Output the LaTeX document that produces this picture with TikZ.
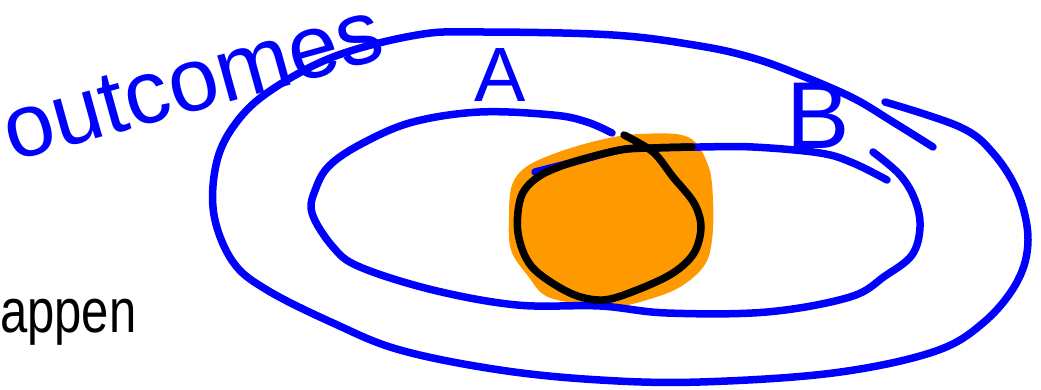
\documentclass[tikz,border=0pt]{standalone}
\usepackage{fontspec}
\setmainfont{Liberation Sans}
\definecolor{penblue}{RGB}{0,0,255}
\definecolor{hilite}{RGB}{255,153,0}
\tikzset{
  bluestroke/.style={draw=penblue, line width=7.5pt, line cap=round, line join=round},
  blackstroke/.style={draw=black, line width=7.5pt, line cap=round, line join=round},
  handlabel/.style={text=penblue, inner sep=0pt},
}
\begin{document}
\begin{tikzpicture}[x=1pt,y=-1pt]
\useasboundingbox (0,0) rectangle (1041,390);
% orange highlight
\fill[hilite] plot[smooth cycle, tension=0.6] coordinates {
 (600,140) (640,134) (688,137) (708,165) (713,200) (712,240) (704,266)
 (680,287) (650,299) (615,307) (580,304) (546,296) (528,276) (511,250)
 (509,215) (512,185) (526,167) (556,153)};
% outer set (outcomes)
\draw[bluestroke] plot[smooth, tension=0.6] coordinates {
 (885,102) (960,127) (993,153) (1018,193) (1028,240) (1017,282) (983,323)
 (933,352) (833,373) (700,382) (600,380) (500,370) (400,350) (333,323)
 (267,290) (233,262) (214,215) (216,165) (233,127) (267,93) (333,57)
 (417,35) (480,32) (613,35) (700,46) (753,58) (800,75) (853,98) (893,122) (933,147)};
% set A / B ellipse
\draw[bluestroke] plot[smooth, tension=0.6] coordinates {
 (873,152) (900,175) (915,200) (920,227) (912,255) (885,276) (850,297)
 (767,312) (667,313) (600,306) (517,305) (433,290) (360,267) (333,247)
 (312,213) (316,188) (330,165) (363,143) (413,122) (480,112) (553,115)
 (587,122) (612,133)};
% top edge of B
\draw[bluestroke] plot[smooth, tension=0.6] coordinates {
 (535,172) (570,163) (620,150) (653,148) (700,147) (753,147) (820,153) (853,163) (887,180)};
% black loop
\draw[blackstroke] plot[smooth, tension=0.55] coordinates {
 (624,135) (653,152) (673,177) (694,203) (701,227) (694,253) (673,273)
 (637,290) (603,300) (570,293) (532,267) (518,233) (521,197) (538,177)
 (570,163) (620,150) (653,148) (692,147)};
% labels
\node[handlabel, font=\fontsize{90}{90}\selectfont, rotate=15.5, anchor=base west] (outc) at (12,162) {outcomes};
\node[handlabel, font=\fontsize{77}{77}\selectfont] (labA) at (500,75) {A};
\node[handlabel, font=\fontsize{95}{95}\selectfont] (labB) at (818,116) {B};
\node[font=\fontsize{62}{62}\selectfont, xscale=0.79, anchor=base west, inner sep=0pt] (appen) at (0,332) {appen};
\end{tikzpicture}
\end{document}
